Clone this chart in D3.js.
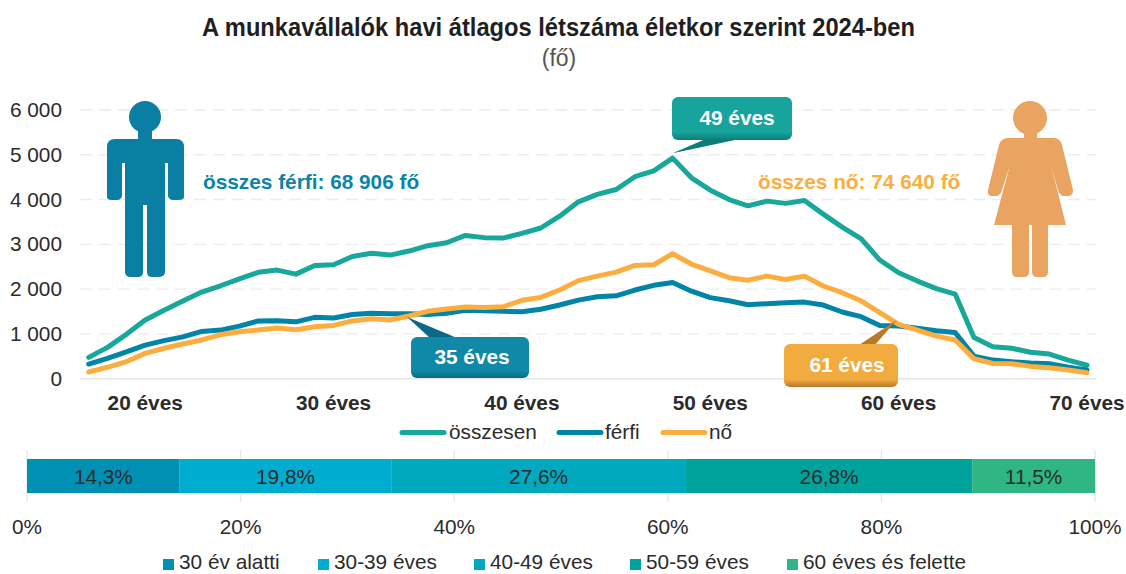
<!DOCTYPE html>
<html><head><meta charset="utf-8">
<script src="https://cdn.jsdelivr.net/npm/d3@7/dist/d3.min.js"></script>
<style>html,body{margin:0;padding:0;background:#fff}svg{display:block;font-family:"Liberation Sans",Arial,sans-serif}</style>
</head><body><svg id="c" width="1126" height="574"></svg>
<script>
const ages = d3.range(17, 71);
const osszesen = [476,700,990,1310,1530,1735,1935,2075,2230,2375,2425,2335,2530,2545,2730,2800,2760,2850,2970,3035,3200,3150,3140,3245,3365,3630,3950,4115,4225,4510,4640,4925,4485,4210,4000,3860,3965,3915,3980,3675,3385,3130,2650,2365,2180,2010,1890,920,715,680,590,550,415,300];
const ferfi = [327,455,600,750,850,935,1055,1085,1175,1290,1295,1270,1370,1355,1435,1460,1450,1450,1435,1460,1530,1520,1505,1495,1550,1645,1755,1830,1850,1980,2085,2150,1955,1810,1740,1650,1675,1695,1710,1645,1490,1385,1190,1175,1125,1070,1030,505,415,380,350,335,255,195];
const no = [150,255,380,565,680,775,865,980,1050,1085,1130,1095,1160,1190,1290,1340,1310,1400,1505,1555,1600,1590,1605,1750,1815,1980,2190,2290,2380,2530,2545,2790,2560,2410,2255,2200,2290,2215,2290,2070,1920,1740,1475,1215,1085,950,865,445,340,335,275,245,195,135];
const yTicks = [0,1000,2000,3000,4000,5000,6000];
const ageTicks = [20,30,40,50,60,70];
const lineSeries = [["összesen",osszesen,"#17a79b"],["férfi",ferfi,"#0084a8"],["nő",no,"#fbad3f"]];
const shareLabels = ["30 év alatti","30-39 éves","40-49 éves","50-59 éves","60 éves és felette"];
const shareValues = [14.3,19.8,27.6,26.8,11.5];
const shareColors = ["#0090b4","#00acd0","#00a9bd","#00a39b","#2fb684"];
const pctTicks = [0,20,40,60,80,100];
const ink = "#2b2b2b";

const svg = d3.select("#c");
const x = d3.scaleLinear().domain([17,70]).range([88.7,1087]);
const y = d3.scaleLinear().domain([0,6000]).range([378.7,110]);
const fmt = v => v === 0 ? "0" : d3.format(",")(v).replace(",", " ");

// title
svg.append("text").attr("x",202).attr("y",36).attr("font-size",26).attr("font-weight",700).attr("fill","#1f1f1f")
  .attr("textLength",713).attr("lengthAdjust","spacingAndGlyphs").text("A munkavállalók havi átlagos létszáma életkor szerint 2024-ben");
svg.append("text").attr("x",559).attr("y",66).attr("text-anchor","middle").attr("font-size",23).attr("fill","#555").text("(fő)");

// y grid + labels
svg.append("g").selectAll("line").data(yTicks).join("line")
  .attr("x1",80).attr("x2",1096).attr("y1",d=>y(d)).attr("y2",d=>y(d))
  .attr("stroke",d=>d===0?"#e6e6e6":"#ececec").attr("stroke-width",1.4).attr("stroke-dasharray",d=>d===0?null:"12 7");
svg.append("g").selectAll("text").data(yTicks).join("text")
  .attr("x",62).attr("y",d=>y(d)+7).attr("text-anchor","end").attr("font-size",20.8).attr("fill",ink).text(fmt);

// figures
svg.append("g").attr("fill","#0a7ea3").call(g=>{
  g.append("circle").attr("cx",145).attr("cy",117).attr("r",16);
  g.append("rect").attr("x",138).attr("y",128).attr("width",14).attr("height",14);
  g.append("path").attr("d","M115 139H176Q184 139 184 147V197Q184 200 178 200H173Q169 200 168 196V163H165V272Q165 277 158 277H152Q147 277 147 272V205H143V272Q143 277 138 277H131Q125 277 125 272V163H122V196Q121 200 117 200H112Q107 200 107 197V147Q107 139 115 139Z");
});
svg.append("g").attr("fill","#e9a461").call(g=>{
  g.append("circle").attr("cx",1030).attr("cy",118).attr("r",17);
  g.append("rect").attr("x",1024).attr("y",130).attr("width",13).attr("height",12);
  g.append("path").attr("d","M1008 138H1054Q1060 138 1062 145L1073 190Q1073 196 1068 196H1064Q1060 196 1058 190L1051 165L1066 225H1048V272Q1048 277 1043 277H1037Q1032 277 1032 272V225H1029V272Q1029 277 1024 277H1017Q1012 277 1012 272V225H994L1010 165L1002 190Q1000 196 996 196H992Q987 196 988 190L999 145Q1001 138 1008 138Z");
});
svg.append("text").attr("x",203).attr("y",189).attr("font-size",20.8).attr("font-weight",700).attr("fill","#0a84a8").text("összes férfi: 68 906 fő");
svg.append("text").attr("x",758).attr("y",189).attr("font-size",20.8).attr("font-weight",700).attr("fill","#fbad3f").text("összes nő: 74 640 fő");

// lines
const line = d3.line().x((d,i)=>x(ages[i])).y(d=>y(d));
svg.append("g").selectAll("path").data(lineSeries).join("path")
  .attr("d",d=>line(d[1])).attr("fill","none").attr("stroke",d=>d[2]).attr("stroke-width",5).attr("stroke-linejoin","round").attr("stroke-linecap","round");

// callouts
const defs = svg.append("defs");
function callout(id,c1,c2,bx,by,bw,bh,tipAge,tipVal,tipDy,base1,base2,label,tx){
  const g = defs.append("linearGradient").attr("id",id).attr("x1",0).attr("y1",0).attr("x2",0).attr("y2",1);
  g.append("stop").attr("offset","0%").attr("stop-color",c1);
  g.append("stop").attr("offset","82%").attr("stop-color",c1);
  g.append("stop").attr("offset","100%").attr("stop-color",c2);
  svg.append("path").attr("d",`M${x(tipAge)} ${y(tipVal)+tipDy}L${base1[0]} ${base1[1]}L${base2[0]} ${base2[1]}Z`).attr("fill",c2);
  svg.append("rect").attr("x",bx).attr("y",by).attr("width",bw).attr("height",bh).attr("rx",6).attr("fill",`url(#${id})`);
  svg.append("text").attr("x",tx).attr("y",by+bh/2+6).attr("text-anchor","middle").attr("font-size",20.8).attr("font-weight",700).attr("fill","#fff").text(label);
}
callout("g49","#17a49c","#0c7d78",672,97,120,43,48,4925,-5,[708,138],[735,140],"49 éves",737);
callout("g35","#1088a8","#0a6a86",411,337,118,41,33.9,1380,0,[430,338],[457,338],"35 éves",472);
callout("g61","#f2ab3f","#b9782a",784,344,114,43,59.9,1310,0,[859,345],[874,346],"61 éves",847);

// age labels
svg.append("g").selectAll("text").data(ageTicks).join("text")
  .attr("x",d=>x(d)).attr("y",410).attr("text-anchor","middle").attr("font-size",20.8).attr("font-weight",700).attr("fill",ink).text(d=>d+" éves");

// line legend
const lx = [[400,449],[557,605],[661,709]];
lineSeries.forEach((s,i)=>{
  svg.append("line").attr("x1",lx[i][0]+2).attr("x2",lx[i][0]+44).attr("y1",432.5).attr("y2",432.5).attr("stroke",s[2]).attr("stroke-width",5).attr("stroke-linecap","round");
  svg.append("text").attr("x",lx[i][1]).attr("y",439).attr("font-size",20.8).attr("fill",ink).text(s[0]);
});

// stacked share bar
const p = d3.scaleLinear().domain([0,100]).range([27,1095]);
svg.append("g").selectAll("line").data(pctTicks).join("line")
  .attr("x1",d=>p(d)).attr("x2",d=>p(d)).attr("y1",450).attr("y2",502).attr("stroke","#e8e8e8").attr("stroke-width",1.4);
let cum = 0;
const stacks = shareValues.map(v=>{const s={a:cum,b:cum+v,v};cum+=v;return s;});
const total = cum;
svg.append("g").selectAll("rect").data(stacks).join("rect")
  .attr("x",d=>p(d.a/total*100)).attr("width",d=>p(d.b/total*100)-p(d.a/total*100)).attr("y",459).attr("height",34)
  .attr("fill",(d,i)=>shareColors[i]);
svg.append("g").selectAll("text").data(stacks).join("text")
  .attr("x",d=>p((d.a+d.b)/2/total*100)).attr("y",484).attr("text-anchor","middle").attr("font-size",20.8).attr("fill",ink)
  .text(d=>String(d.v).replace(".",",")+"%");
svg.append("g").selectAll("text").data(pctTicks).join("text")
  .attr("x",d=>p(d)).attr("y",534).attr("text-anchor","middle").attr("font-size",20.8).attr("fill",ink).text(d=>d+"%");

// share legend
const sqX = [163,318,474,630,787];
shareLabels.forEach((t,i)=>{
  svg.append("rect").attr("x",sqX[i]).attr("y",559).attr("width",11).attr("height",11).attr("fill",shareColors[i]);
  svg.append("text").attr("x",sqX[i]+16).attr("y",569).attr("font-size",20.8).attr("fill",ink).text(t);
});
</script></body></html>
